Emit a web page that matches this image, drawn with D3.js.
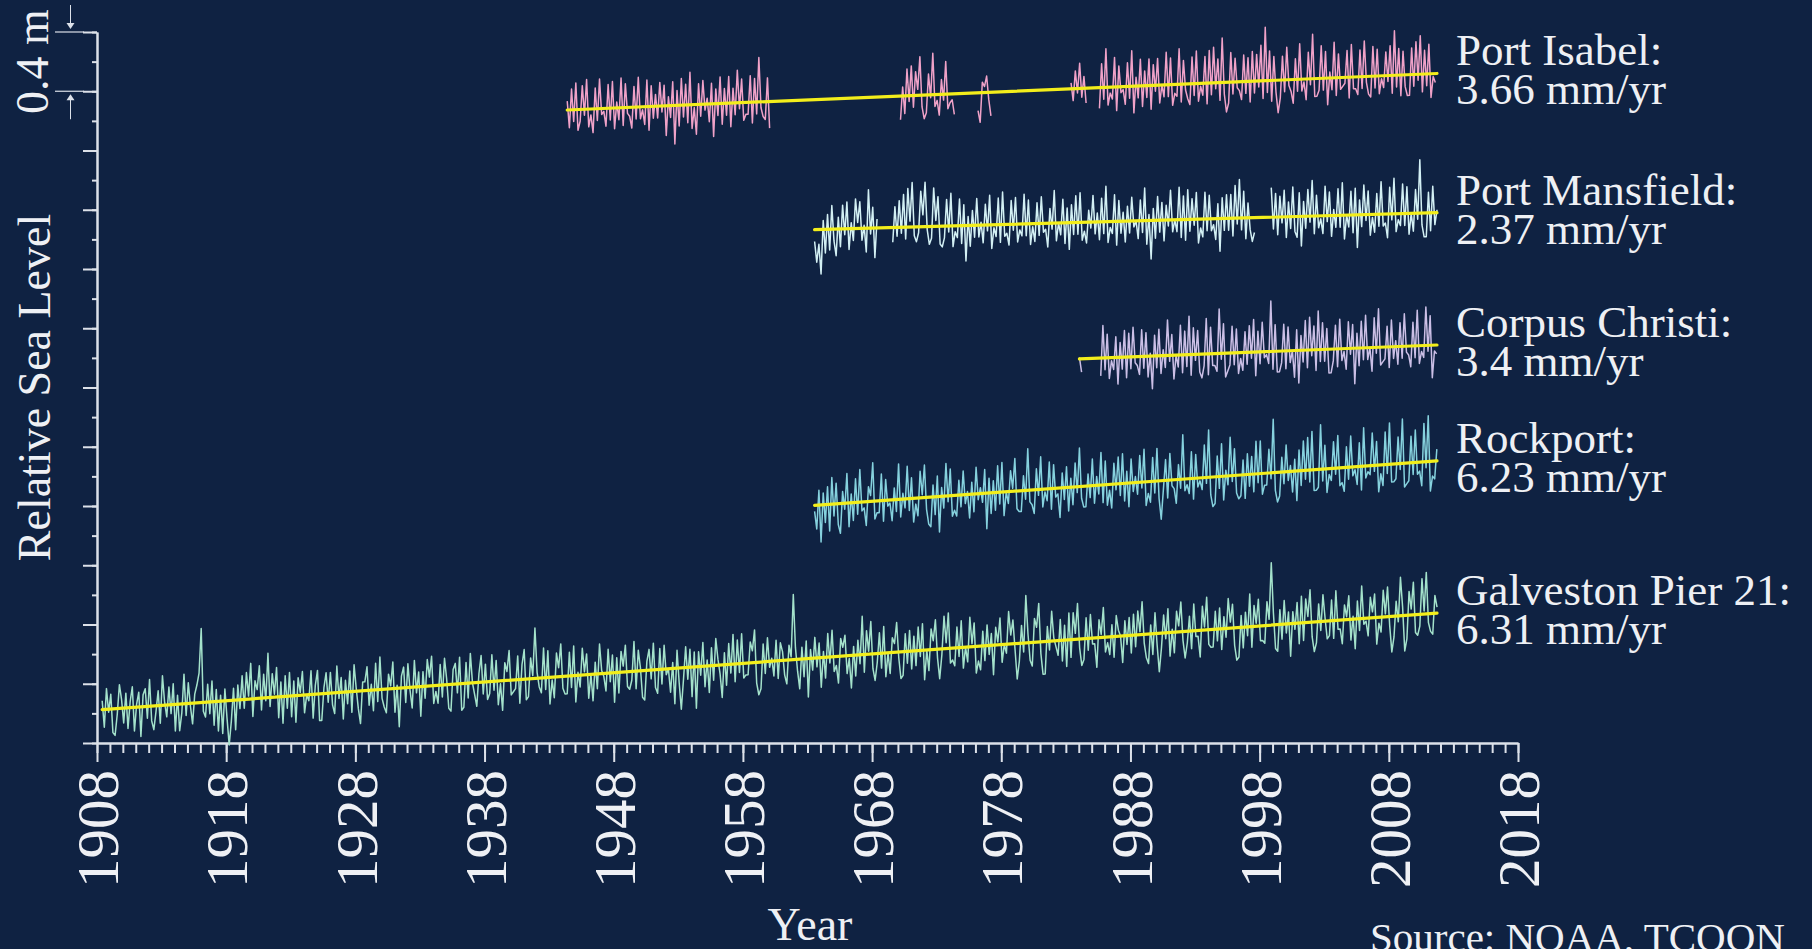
<!DOCTYPE html>
<html>
<head>
<meta charset="utf-8">
<script src="https://cdn.jsdelivr.net/npm/d3@7"></script>
<style>
  html, body { margin: 0; padding: 0; background: #0f2242; overflow: hidden; }
  svg { display: block; }
  text { font-family: "Liberation Serif", "Times New Roman", serif; fill: #eef0f4; }
</style>
</head>
<body>
<svg id="chart"></svg>
<script>
// stations, bottom to top
const stations = ['Galveston Pier 21', 'Rockport', 'Corpus Christi', 'Port Mansfield', 'Port Isabel']
const rates = [6.31, 6.23, 3.4, 2.37, 3.66] // mm/yr
const trendStart = [1908.4, 1963.55, 1984.05, 1963.55, 1944.4]
const trendEnd = 2011.73
// level of each station's trend at trendEnd, on the stacked axis (m)
const baseLevel = [0.877, 1.904, 2.687, 3.58, 4.52]

// bimonthly anomalies from the trend, cm (6 per year)
const galvestonStart = [1908.4]
const galvestonVals = [
  6,-12,14,-2,10,-16, -18,-4,16,6,-10,10,
  -14,4,14,-16,2,10, -20,8,12,-8,18,-10,
  -16,-4,10,-12,20,2, -8,12,-6,14,-18,6,
  -18,-6,20,-8,14,-2, -14,6,12,20,50,-6,
  -10,12,-8,14,-16,8, -20,4,-22,8,-12,-30,
  -14,8,-20,10,-6,16, -6,18,2,24,-12,12,
  6,22,-8,16,-2,30, -6,16,2,20,-14,10,
  -18,14,-8,16,-14,10, -18,12,2,16,-12,0,
  -4,16,-16,6,16,-18, -18,4,14,-6,14,-8,
  -14,18,-4,10,-18,8, -8,14,-14,18,2,-12,
  -22,6,6,16,-10,4, -14,18,-8,22,-6,-12,
  -16,10,2,18,-16,2, -26,8,14,-10,16,-2,
  -14,18,-4,10,-20,10, -8,18,6,20,-12,-4,
  -12,14,-8,18,4,-16, -18,10,14,-6,18,-18,
  -16,14,-10,20,0,-8, -16,6,18,-8,12,-12,
  -8,18,-6,14,-16,-2, -20,12,6,20,-10,-8,
  -6,16,-16,10,20,-14, -12,14,2,34,4,-6,
  -10,20,-8,18,-18,-2, -14,16,6,22,-8,-12,
  -12,16,-8,20,-18,2, -8,18,2,14,-16,0,
  -18,8,-10,20,2,-2, -12,16,-6,12,-20,10,
  -14,14,4,18,-10,-12, -6,20,-12,14,2,-18,
  -20,6,14,-6,18,-12, -16,14,-10,16,-4,0,
  -16,4,-24,12,-10,-28, -8,14,-8,12,-20,10,
  -28,10,-6,16,-14,4, -18,12,-10,18,4,-6,
  -22,8,-14,14,-6,20, -12,16,-6,20,-10,-8,
  -8,14,8,22,-14,-22, -18,12,-8,16,-4,2,
  -10,14,-12,12,6,-10, -16,10,2,44,8,-8,
  -20,8,-12,12,-26,6, -8,14,-6,10,-20,4,
  -14,16,-4,18,-10,-6, -18,12,6,14,-12,-2,
  -22,6,-14,10,-6,26, -12,16,2,22,-10,-18,
  -6,14,-10,18,-16,0, -14,10,6,20,-4,-18,
  -16,12,-8,14,-12,10, -10,16,-4,18,-20,0,
  -14,14,6,20,-6,-20, -4,22,4,24,-10,-8,
  -12,14,-6,18,-14,0, -10,20,2,16,-18,-10,
  -16,10,-10,14,-6,8, -20,12,2,18,-12,0,
  -6,22,6,16,-4,-24, -12,12,-6,32,6,-12,
  -16,16,10,26,-8,-22, -22,10,-6,20,2,-4,
  -10,14,-14,10,-18,18, -12,18,4,24,-6,-18,
  -14,14,-8,16,-4,-4, -20,12,2,20,-10,-4,
  -12,8,-14,14,4,0, -18,10,-6,12,-12,14,
  -8,16,2,22,-6,-16, -20,6,-14,14,-8,-26,
  -10,12,-4,16,-16,2, -14,14,4,20,-6,-18,
  -8,10,-12,18,-4,-4, -18,16,2,22,-10,-12,
  -12,12,-8,14,-14,8, -6,20,4,16,-12,-22,
  -20,8,-14,10,-6,22, -14,14,2,18,-10,-10,
  -12,16,4,42,8,-16, -18,10,-10,16,-6,8,
  -22,8,-4,14,-14,18, -12,16,4,22,-10,-20,
  -14,12,-6,18,2,-12, -10,14,-12,20,-6,-6,
  -16,10,2,16,-14,2, -20,12,-8,22,-4,-2,
  -12,14,4,16,-18,-4, -10,18,2,20,-6,-24,
  -14,10,-4,26,6,-24, -16,16,4,22,-12,-14,
  -8,24,2,28,-6,-12, -14,12,4
]

const rockportStart = [1963.55]
const rockportVals = [
  -4,-16,10,-25,8,-12, 12,-18,18,-8,14,-14,
  -20,8,-4,20,-16,6, -12,16,-8,22,-6,-4,
  -16,10,4,26,-12,-8, -8,18,-14,14,-4,-2,
  -14,8,-8,24,-12,4, -6,22,-8,14,-16,-4,
  -12,18,2,22,-8,-18, -20,8,-12,14,-24,6,
  -8,22,-4,18,-14,-10, -14,10,-8,16,-6,2,
  -16,8,-12,18,-4,4, -6,16,-24,10,-14,8,
  -12,18,-8,20,-16,0, -8,14,2,22,-12,-14,
  -14,10,-6,28,-8,-10, -16,14,-4,22,-12,-2,
  -8,18,-14,16,-6,-4, -20,10,-8,14,-16,6,
  -12,16,-4,26,-8,-14, -14,8,-8,18,-12,6,
  -6,22,-12,16,-14,-4, -16,14,-4,18,-8,20,
  -12,8,-16,16,-6,4, -8,18,-4,22,-16,-8,
  -14,16,-8,22,-12,-26, -6,14,-12,18,-4,-6,
  -16,10,-6,30,-8,-4, -10,18,-14,16,-6,-2,
  -8,22,-4,32,-12,-20, -18,14,-8,22,-16,4,
  -6,26,-4,18,-12,-16, -14,10,-16,14,-8,12,
  -12,22,-6,22,-14,-8, -8,16,-4,36,-12,-20,
  -16,10,-8,18,-6,4, -14,8,-20,14,-10,20,
  -6,22,-8,26,-14,-14, -12,30,-8,16,-16,-4,
  -8,18,-4,22,-12,-10, -16,14,-8,21,-6,-2,
  -12,16,-16,26,-8,-4, -6,22,-4,16,-18,-6,
  -14,22,-6,28,-12,-12, -10,18,-4,30,-16,-14,
  -12,18,-8,22,-8,-6, -16,26,-4,31,-20,-10,
  -12,8
]

const corpusStart = [1984.05, 1985.7]
const corpusA = [1, -9]
const corpusB = [
  -12,22,-8,16,-14,-2, -8,14,-18,10,-8,18,
  -14,16,-8,20,-4,-6, -12,18,-8,16,-14,2,
  -22,14,-8,18,-12,4, -8,24,-4,14,-16,0,
  -8,20,-12,16,-8,26, -14,18,-4,16,-12,-16,
  -8,24,-14,18,-8,-8, -12,30,-4,20,-16,-12,
  -8,18,-8,16,-14,-4, -12,14,-8,18,-4,22,
  -16,14,-8,20,-4,-2, -8,34,-12,18,-14,-14,
  -8,18,-12,16,-8,0, -18,14,-22,10,-8,20,
  -12,22,-4,16,-14,26, -8,18,-8,14,-16,-16,
  -8,16,-12,20,-8,-2, -14,18,-4,16,-24,10,
  -12,18,-8,22,-8,0, -16,20,-4,26,-12,-10,
  -8,14,-14,18,-8,4, -12,16,-8,22,-4,-6,
  -14,16,-8,24,-12,-4, -8,26,-4,20,-22,-4,
  -6
]

const mansfieldStart = [1963.55, 1969.6, 1998.9]
const mansfieldA = [
  -8,-22,-10,-30,6,-16, 10,-14,16,-8,-18,8, -12,16,-4,18,-14,4,
  -8,20,4,18,-8,2, -16,26,-4,14,-20,6
]
const mansfieldB = [
  -10,14,-6,18,-4,22, -8,26,4,30,-6,-10,
  -4,24,8,30,-2,-12, -8,26,4,20,-12,-14,
  -8,18,-4,22,-14,-4, -8,18,-12,14,-24,6,
  -14,10,-8,18,-8,2, -12,14,-4,20,-16,-2,
  -8,18,-12,22,-8,-6, -14,16,-4,18,-12,-4,
  -8,20,-8,16,-14,-2, -12,14,-8,18,-6,-4,
  -16,10,-4,22,-12,0, -8,16,-14,10,-18,12,
  -8,18,-8,20,-12,-6, -14,8,-4,18,-8,6,
  -12,16,-8,24,-14,-4, -8,18,-16,14,-8,6,
  -14,10,-8,16,-4,0, -12,14,-8,22,-16,4,
  -26,8,-12,16,-8,12, -14,10,-4,20,-8,0,
  -8,22,-12,16,-14,20, -8,14,-4,18,-16,-6,
  -12,18,-8,16,-8,-4, -14,10,-22,14,-8,16,
  -8,16,-12,22,-4,26, -8,18,-14,10,-8,-16,
  -10
]
const mansfieldC = [
  20,-8,16,-12,14,-4, 18,-14,10,-8,20,-10,
  -14,16,-20,10,-8,18, -4,24,-12,14,-8,-2,
  -12,20,-4,16,-14,4, -8,18,-8,22,-16,0,
  -8,16,-12,18,-22,10, -8,20,-4,16,-14,-2,
  -12,14,-8,22,-8,-6, -16,18,-4,24,-12,-4,
  -8,20,-8,18,-14,0, -12,16,-4,36,-8,-16,
  -16,14,-12,18,-8,2
]

const isabelStart = [1944.4, 1970.2, 1976.2, 1983.4, 1985.6]
const isabelA = [
  6,-12,14,-8,18,-14, -8,16,-4,20,-12,-4,
  -16,14,-8,20,-4,-2, -12,16,-8,18,-14,4,
  -8,20,-12,16,-4,-6, -14,14,-8,20,-8,-2,
  -12,18,-16,14,-8,8, -8,16,-4,14,-20,6,
  -8,16,-26,10,-14,18, -8,14,-12,22,-16,-2,
  -20,14,-8,16,-4,4, -12,14,-22,10,-8,18,
  -14,10,-8,18,-16,10, -8,22,-4,16,-12,-8,
  -8,18,-14,16,-8,30,-4,-10,-12,16,-18
]
const isabelB = [
  -16,6,-12,18,-4,20, -8,16,4,26,-8,-16, -12,14,-2,28,-8,-4,
  -14,10,-4,22,-10,-6, -4,-14
]
const isabelC = [-12, -20, 7, 4, 11, -5, -16]
const isabelD = [4, -8, 12, -3, 17, -6, 8, -10]
const isabelE = [
  -14,16,-8,26,-12,-4, -8,20,-16,14,-4,-2,
  -12,16,-8,24,-18,6, -8,18,-14,10,-8,18,
  -16,14,-4,18,-12,0, -8,22,-8,18,-14,-6,
  -8,24,-12,16,-4,-10, -14,18,-8,22,-12,-2,
  -8,18,-14,22,-8,24, -4,16,-12,30,-8,-20,
  -14,20,-8,16,-4,-6, -12,18,-8,16,-14,20,
  -8,18,-4,24,-12,36, -8,20,-14,16,-8,-22,
  -12,16,-8,22,-4,-8, -16,14,-8,24,-8,-2,
  -14,18,-4,30,-12,-12, -8,22,-8,18,-18,4,
  -8,24,-12,16,-8,-6, -4,18,-14,22,-8,-8,
  -12,18,-8,24,-4,-12, -14,20,-8,18,-12,-2,
  -8,16,-4,20,-12,30, -8,18,-14,16,-8,-14,
  -14,18,-8,22,-4,26, -12,16,-8,20,-16,-2,
  -6
]

const xTicks = d3.range(1908, 2019, 10)

const segments = [
  [[galvestonStart[0], galvestonVals]],
  [[rockportStart[0], rockportVals]],
  [[corpusStart[0], corpusA], [corpusStart[1], corpusB]],
  [[mansfieldStart[0], mansfieldA], [mansfieldStart[1], mansfieldB], [mansfieldStart[2], mansfieldC]],
  [[isabelStart[0], isabelA], [isabelStart[1], isabelB], [isabelStart[2], isabelC],
   [isabelStart[3], isabelD], [isabelStart[4], isabelE]]
]

const colors = ['#a4e2cb', '#86d2de', '#cbbfe6', '#d3f0f4', '#f0a2c8']
const axisColor = '#dce1e9'
const trendColor = '#f3ee1b'

const width = 1812
const height = 949

const svg = d3.select('#chart').attr('width', width).attr('height', height)
svg.append('rect').attr('width', width).attr('height', height).attr('fill', '#0f2242')

const x = d3.scaleLinear().domain([1908, 2018]).range([97, 1518])
const y = d3.scaleLinear().domain([0, 4.8]).range([743, 32])

// level on the stacked axis
const level = (i, t, a) => baseLevel[i] + (rates[i] / 1000) * (t - trendEnd) + a / 100

const line = d3.line().x((d) => x(d.t)).y((d) => y(d.v))

// x axis: minor yearly ticks, major every 10 years
svg.append('g').attr('transform', `translate(0,${y(0)})`)
  .call(d3.axisBottom(x).tickValues(d3.range(1908, 2019)).tickSize(10).tickSizeOuter(0).tickFormat(''))
const gx = svg.append('g').attr('transform', `translate(0,${y(0)})`)
  .call(d3.axisBottom(x).tickValues(xTicks).tickSize(19).tickSizeOuter(0).tickFormat(d3.format('d')))

gx.selectAll('text')
  .attr('y', 0)
  .attr('x', -27)
  .attr('dy', '0.35em')
  .attr('transform', 'rotate(-90)')
  .style('text-anchor', 'end')
  .style('font-size', '59px')
  .style('font-family', '"Liberation Serif", serif')
  .attr('fill', '#eef0f4')

// y axis: minor every 0.2 m, major every 0.4 m
const yMinor = d3.range(0, 25).map((i) => i * 0.2)
const yMajor = d3.range(0, 13).map((i) => i * 0.4)
svg.append('g').attr('transform', `translate(${x(1908)},0)`)
  .call(d3.axisLeft(y).tickValues(yMinor).tickSize(5).tickSizeOuter(0).tickFormat(''))
svg.append('g').attr('transform', `translate(${x(1908)},0)`)
  .call(d3.axisLeft(y).tickValues(yMajor).tickSize(14).tickSizeOuter(0).tickFormat(''))

svg.selectAll('.domain, .tick line').attr('stroke', axisColor).attr('stroke-width', 2)

// scale bar: 0.4 m
const barTop = y(4.8)
const barBot = y(4.4)
const bar = svg.append('g').attr('stroke', axisColor).attr('fill', axisColor)
bar.append('line').attr('x1', 55).attr('x2', 84).attr('y1', barTop).attr('y2', barTop).attr('stroke-width', 1.2)
bar.append('line').attr('x1', 55).attr('x2', 84).attr('y1', barBot).attr('y2', barBot).attr('stroke-width', 1.2)
bar.append('line').attr('x1', 70.5).attr('x2', 70.5).attr('y1', 5).attr('y2', barTop - 6).attr('stroke-width', 1)
bar.append('path').attr('d', `M66.5,${barTop - 9}L74.5,${barTop - 9}L70.5,${barTop - 3}Z`).attr('stroke', 'none')
bar.append('line').attr('x1', 70.5).attr('x2', 70.5).attr('y1', barBot + 6).attr('y2', barBot + 28).attr('stroke-width', 1)
bar.append('path').attr('d', `M66.5,${barBot + 9}L74.5,${barBot + 9}L70.5,${barBot + 3}Z`).attr('stroke', 'none')

svg.append('text')
  .attr('transform', `translate(48,${(barTop + barBot) / 2}) rotate(-90)`)
  .attr('text-anchor', 'middle')
  .style('font-size', '46px')
  .text('0.4 m')

// series
stations.forEach((name, i) => {
  segments[i].forEach(([start, vals]) => {
    const pts = vals.map((a, k) => {
      const t = start + k / 6
      return { t: t, v: level(i, t, a) }
    })
    svg.append('path')
      .datum(pts)
      .attr('d', line)
      .attr('fill', 'none')
      .attr('stroke', colors[i])
      .attr('stroke-width', 1.5)
      .attr('stroke-linejoin', 'round')
  })
})

// trend lines
stations.forEach((name, i) => {
  svg.append('line')
    .attr('x1', x(trendStart[i]))
    .attr('y1', y(level(i, trendStart[i], 0)))
    .attr('x2', x(trendEnd))
    .attr('y2', y(level(i, trendEnd, 0)))
    .attr('stroke', trendColor)
    .attr('stroke-width', 3.2)
    .attr('stroke-linecap', 'round')
})

// station labels
stations.forEach((name, i) => {
  const yEnd = y(baseLevel[i])
  const t = svg.append('text').style('font-size', '45px')
  t.append('tspan').attr('x', 1456).attr('y', yEnd - 8).text(name + ':')
  t.append('tspan').attr('x', 1456).attr('y', yEnd + 31).text(rates[i] + ' mm/yr')
})

// axis titles
svg.append('text')
  .attr('transform', `translate(50,${(y(0) + y(4.8)) / 2}) rotate(-90)`)
  .attr('text-anchor', 'middle')
  .style('font-size', '46px')
  .text('Relative Sea Level')

svg.append('text')
  .attr('x', 810)
  .attr('y', 940)
  .attr('text-anchor', 'middle')
  .style('font-size', '46px')
  .text('Year')

svg.append('text')
  .attr('x', 1370)
  .attr('y', 951)
  .style('font-size', '41px')
  .text('Source: NOAA, TCOON')
</script>
</body>
</html>
